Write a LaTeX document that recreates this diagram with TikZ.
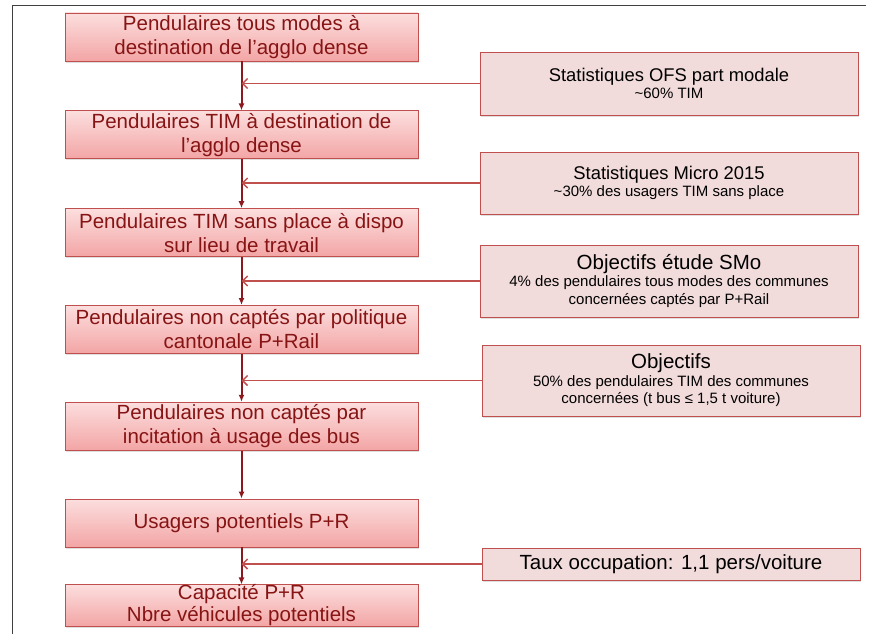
\documentclass[tikz,border=0pt]{standalone}
\usepackage{fontspec}
\setmainfont{Liberation Sans}
\usetikzlibrary{arrows.meta,positioning,shadows}
\definecolor{boxred}{RGB}{192,80,77}
\definecolor{textred}{RGB}{135,20,20}
\definecolor{flowred}{RGB}{140,25,30}
\definecolor{pinktop}{RGB}{252,222,222}
\definecolor{pinkbot}{RGB}{243,165,165}
\definecolor{softpink}{RGB}{242,220,219}
\newcommand{\subfont}{\fontsize{15}{17.5}\selectfont}

\begin{document}
\begin{tikzpicture}[x=1pt,y=-1pt,node distance=49pt,
  every node/.style={align=center},
  stepbox/.style={draw=boxred,line width=0.8pt,top color=pinktop,bottom color=pinkbot,text=textred,minimum width=353pt,minimum height=48pt,inner sep=1pt,font=\fontsize{20.5}{24}\selectfont,drop shadow={opacity=0.25,shadow xshift=1pt,shadow yshift=-1.5pt}},
  infobox/.style={draw=boxred,line width=0.8pt,fill=softpink,text=black,minimum width=378pt,inner sep=2pt,font=\subfont,drop shadow={opacity=0.25,shadow xshift=1pt,shadow yshift=-1.5pt}},
  flow/.style={-{Latex[length=7pt,width=6pt]},draw=flowred,fill=flowred,line width=2pt},
  feed/.style={-{Straight Barb[length=5pt,width=10pt]},draw=boxred,line width=1.5pt}]
\useasboundingbox (0,0) rectangle (874,634);
% cadre
\draw[black!75,line width=1pt] (12,634) -- (12,6) -- (866,6);

% chaine principale
\node[stepbox] (tous) at (241.5,37) {Pendulaires tous modes à\\destination de l’agglo dense};
\node[stepbox,below=of tous] (tim) {Pendulaires TIM à destination de\\l’agglo dense};
\node[stepbox,below=of tim] (sansplace) {Pendulaires TIM sans place à dispo\\sur lieu de travail};
\node[stepbox,below=48pt of sansplace] (nonrail) {Pendulaires non captés par politique\\cantonale P+Rail};
\node[stepbox,below=48pt of nonrail] (nonbus) {Pendulaires non captés par\\incitation à usage des bus};
\node[stepbox,below=48pt of nonbus] (usagers) {Usagers potentiels P+R};
\node[stepbox,below=37pt of usagers,minimum height=41pt,inner sep=0pt,font=\fontsize{20.5}{22}\selectfont] (capa) {Capacité P+R\\Nbre véhicules potentiels};

% hypotheses
\node[infobox,minimum height=63pt] (ofs) at (669,83.5) {{\fontsize{18.4}{22}\selectfont Statistiques OFS part modale}\\\textasciitilde60\% TIM};
\node[infobox,minimum height=62pt] (micro) at (669,183) {{\fontsize{18.4}{22}\selectfont Statistiques Micro 2015}\\\textasciitilde30\% des usagers TIM sans place};
\node[infobox,minimum height=72pt] (smo) at (669,281) {{\fontsize{20.5}{24}\selectfont Objectifs étude SMo}\\4\% des pendulaires tous modes des communes\\concernées captés par P+Rail};
\node[infobox,minimum height=71pt] (obj) at (671,380.5) {{\fontsize{20.5}{24}\selectfont Objectifs}\\50\% des pendulaires TIM des communes\\concernées (t bus ≤ 1,5 t voiture)};
\node[infobox,minimum height=32pt,font=\fontsize{20.5}{24}\selectfont] (taux) at (671,564) {Taux occupation: 1,1 pers/voiture};

\draw[flow] (tous) -- (tim);
\draw[flow] (tim) -- (sansplace);
\draw[flow] (sansplace) -- (nonrail);
\draw[flow] (nonrail) -- (nonbus);
\draw[flow] (nonbus) -- (usagers);
\draw[flow] (usagers) -- (capa);

\coordinate (j1) at (tous.south |- ofs.west);
\coordinate (j2) at (tous.south |- micro.west);
\coordinate (j3) at (tous.south |- smo.west);
\coordinate (j4) at (tous.south |- obj.west);
\coordinate (j5) at (tous.south |- taux.west);
\draw[feed] (ofs.west) -- (j1);
\draw[feed] (micro.west) -- (j2);
\draw[feed] (smo.west) -- (j3);
\draw[feed] (obj.west) -- (j4);
\draw[feed] (taux.west) -- (j5);
\end{tikzpicture}
\end{document}
